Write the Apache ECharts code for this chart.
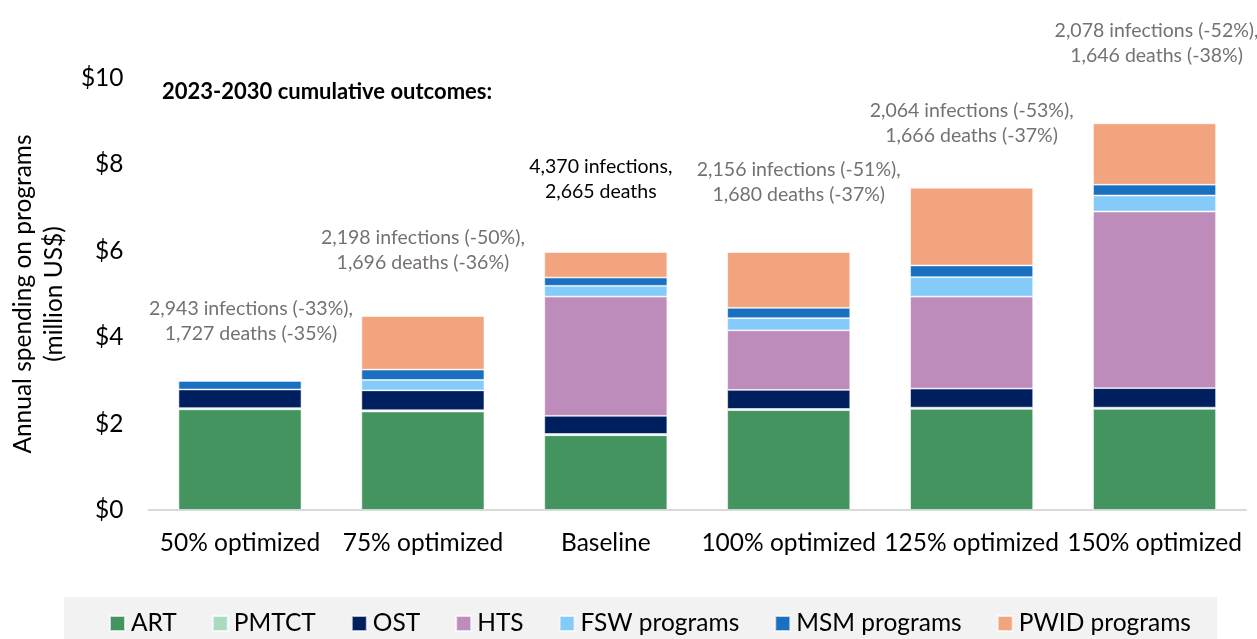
<!DOCTYPE html>
<html>
<head>
<meta charset="UTF-8">
<title>Annual spending on programs</title>
<script src="https://cdn.jsdelivr.net/npm/echarts@6/dist/echarts.min.js"></script>
<style>
  html, body { margin: 0; padding: 0; background: #fff; }
  #main { width: 1257px; height: 639px; }
</style>
</head>
<body>
<div id="main"></div>
<script type="text/javascript">
// scenarios on the x axis
var scenarios = ['50% optimized', '75% optimized', 'Baseline', '100% optimized', '125% optimized', '150% optimized'];

// spending per program, million US$
var art   = [2.33, 2.28, 1.73, 2.31, 2.34, 2.34];
var pmtct = [0.03, 0.03, 0.03, 0.03, 0.03, 0.03];
var ost   = [0.43, 0.46, 0.42, 0.44, 0.44, 0.45];
var hts   = [0, 0, 2.76, 1.38, 2.13, 4.09];
var fsw   = [0, 0.24, 0.25, 0.28, 0.45, 0.37];
var msm   = [0.20, 0.24, 0.19, 0.24, 0.27, 0.25];
var pwid  = [0, 1.24, 0.59, 1.29, 1.80, 1.42];

// 2023-2030 cumulative outcomes per scenario
var outcomes = [
  '2,943 infections (-33%),\n1,727 deaths (-35%)',
  '2,198 infections (-50%),\n1,696 deaths (-36%)',
  '4,370 infections,\n2,665 deaths',
  '2,156 infections (-51%),\n1,680 deaths (-37%)',
  '2,064 infections (-53%),\n1,666 deaths (-37%)',
  '2,078 infections (-52%),\n1,646 deaths (-38%)'
];

var yTicks = [0, 2, 4, 6, 8, 10];

// label placement (kept apart from the data)
var noteOffsets = [[11, -34], [0, -41], [-5, -48], [10, -45], [0, -40], [2, -55]];
var noteColors = ['#767171', '#767171', '#000', '#767171', '#767171', '#767171'];

var FONT = 'Lato';
var myChart = echarts.init(document.getElementById('main'));

function bar(name, data, color) {
  return {
    name: name,
    type: 'bar',
    stack: 'total',
    barWidth: 123,
    data: data,
    itemStyle: { color: color, borderColor: 'rgba(255,255,255,0.7)', borderWidth: 0.8 },
    emphasis: { disabled: true }
  };
}

var series = [
  bar('ART', art, '#43945f'),
  bar('PMTCT', pmtct, '#a9dcbf'),
  bar('OST', ost, '#001f5f'),
  bar('HTS', hts, '#bd8cbb'),
  bar('FSW programs', fsw, '#85cbf9'),
  bar('MSM programs', msm, '#1a70c0'),
  bar('PWID programs', pwid, '#f2a47e')
];

// outcome notes sit above the top segment
series[6].data = pwid.map(function (v, i) {
  return {
    value: v,
    label: {
      show: true,
      position: 'top',
      distance: 0,
      offset: noteOffsets[i],
      formatter: outcomes[i],
      color: noteColors[i],
      fontFamily: FONT,
      fontSize: 19.5,
      lineHeight: 25,
      align: 'center'
    }
  };
});

var option = {
  animation: false,
  backgroundColor: '#fff',
  textStyle: { fontFamily: FONT },
  title: {
    text: '2023-2030 cumulative outcomes:',
    left: 157,
    top: 76,
    textStyle: { fontFamily: FONT, fontSize: 22, fontWeight: 'bold', color: '#000' }
  },
  graphic: [{
    type: 'rect',
    left: 64,
    top: 597,
    shape: { width: 1153, height: 42 },
    style: { fill: '#f2f2f2' },
    z: -10
  }],
  legend: {
    bottom: -2,
    left: 104,
    itemWidth: 15,
    itemHeight: 15,
    itemGap: 35,
    icon: 'rect',
    textStyle: { fontFamily: FONT, fontSize: 24.5, color: '#000', padding: [0, 0, 0, 1] },
    selectedMode: false
  },
  grid: { left: 143, right: 11, top: 78, bottom: 129, containLabel: false },
  xAxis: {
    type: 'category',
    data: scenarios,
    axisLine: { lineStyle: { color: '#d9d9d9', width: 2 } },
    axisTick: { show: false },
    axisLabel: { fontFamily: FONT, fontSize: 24.5, color: '#000', margin: 21, interval: 0 }
  },
  yAxis: {
    type: 'value',
    min: yTicks[0],
    max: yTicks[yTicks.length - 1],
    interval: 2,
    name: 'Annual spending on programs\n(million US$)',
    nameLocation: 'middle',
    nameRotate: 90,
    nameGap: 74,
    nameTextStyle: { fontFamily: FONT, fontSize: 24.5, color: '#000', lineHeight: 31 },
    splitLine: { show: false },
    axisLine: { show: false },
    axisTick: { show: false },
    axisLabel: {
      fontFamily: FONT, fontSize: 24.5, color: '#000', margin: 25,
      formatter: function (v) { return '$' + v; }
    }
  },
  series: series
};

myChart.setOption(option, true);
</script>
</body>
</html>
